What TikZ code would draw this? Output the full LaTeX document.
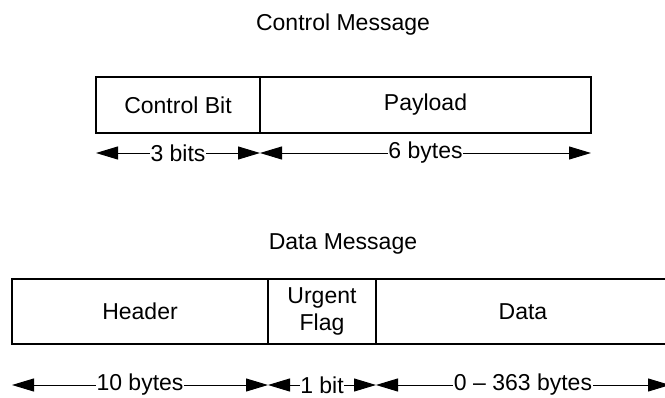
\documentclass[tikz,border=0pt]{standalone}
\usepackage{fontspec}
\setmainfont{Liberation Sans}
\usetikzlibrary{arrows.meta}

\begin{document}
\begin{tikzpicture}[x=1pt, y=-1pt,
  field/.style={draw=black, line width=1.1pt, inner sep=0pt, align=center},
  dimline/.style={line width=1pt,
    {Triangle[length=22pt,width=13pt]}-{Triangle[length=22pt,width=13pt]}},
  dimlabel/.style={fill=white, inner xsep=0.5pt, inner ysep=2pt},
  heading/.style={anchor=base}]
  \useasboundingbox (0,0) rectangle (665,397);
  \clip (0,0) rectangle (665,397);
  \fontsize{23}{27}\selectfont

  % control message frame
  \node[heading] (ctitle) at (343,30) {Control Message};
  \node[field, minimum width=164pt, minimum height=56pt] (cbit) at (178,105) {Control Bit};
  \node[field, minimum width=331pt, minimum height=56pt] (payload) at (425.5,105) {Payload};

  \coordinate (c0) at (96,153);
  \coordinate (c1) at (260,153);
  \coordinate (c2) at (591,153);
  \draw[dimline] (c0) -- node[dimlabel] {3 bits} (c1);
  \draw[dimline] (c1) -- node[dimlabel] {6 bytes} (c2);

  % data message frame (runs past the right edge)
  \node[heading] (dtitle) at (343,249) {Data Message};
  \node[field, minimum width=256pt, minimum height=65pt] (header) at (140,311.5) {Header};
  \node[field, minimum width=108pt, minimum height=65pt] (urgent) at (322,311.5) {Urgent\\Flag};
  \node[field, minimum width=294pt, minimum height=65pt] (data) at (523,311.5) {Data};

  \coordinate (e0) at (12,385);
  \coordinate (e1) at (268,385);
  \coordinate (e2) at (376,385);
  \coordinate (e3) at (670,385);
  \draw[dimline] (e0) -- node[dimlabel] {10 bytes} (e1);
  \draw[dimline] (e1) -- node[dimlabel] {1 bit} (e2);
  \draw[dimline] (e2) -- node[dimlabel] {0 – 363 bytes} (e3);
\end{tikzpicture}
\end{document}
